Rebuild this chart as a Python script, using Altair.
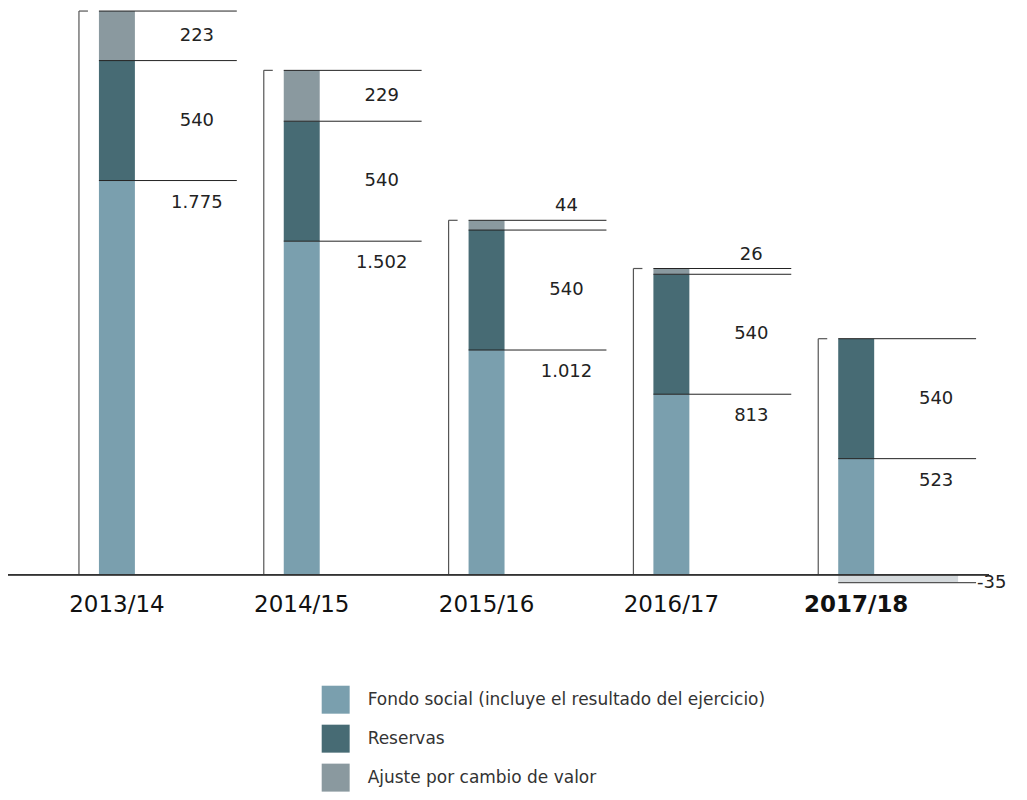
import altair as alt
import pandas as pd

years = ["2013/14", "2014/15", "2015/16", "2016/17", "2017/18"]
fondo = [1775, 1502, 1012, 813, 523]
reservas = [540, 540, 540, 540, 540]
ajuste = [223, 229, 44, 26, -35]
fondo_labels = ["1.775", "1.502", "1.012", "813", "523"]
reservas_labels = ["540", "540", "540", "540", "540"]
ajuste_labels = ["223", "229", "44", "26", "-35"]
series = ["Fondo social (incluye el resultado del ejercicio)", "Reservas", "Ajuste por cambio de valor"]
colors = ["#7a9fae", "#476b74", "#8a999f"]
neg_color = "#d4d9dc"
FONT = "DejaVu Sans"

seg_rows, tot_rows, neg_rows = [], [], []
for i, y in enumerate(years):
    b = 0
    parts = [(series[0], fondo[i], fondo_labels[i]), (series[1], reservas[i], reservas_labels[i])]
    if ajuste[i] > 0:
        parts.append((series[2], ajuste[i], ajuste_labels[i]))
    else:
        neg_rows.append({"year": y, "val": ajuste[i], "zero": 0, "label": ajuste_labels[i]})
    for s, v, lab in parts:
        kind = "fondo" if s == series[0] else ("small" if v < 100 else "mid")
        seg_rows.append({"year": y, "series": s, "bottom": b, "top": b + v,
                         "mid": b + v / 2, "label": lab, "kind": kind})
        b += v
    tot_rows.append({"year": y, "total": b, "zero": 0})

seg = pd.DataFrame(seg_rows)
tot = pd.DataFrame(tot_rows)
neg = pd.DataFrame(neg_rows)

xscale = alt.Scale(domain=years, paddingInner=0, paddingOuter=0.154, align=0.29)
yscale = alt.Scale(domain=[0, 2550], nice=False, zero=False)
X = alt.X("year:N", scale=xscale, sort=years,
          axis=alt.Axis(title=None, domain=False, ticks=False, labelAngle=0, labelFontSize=23,
                        labelFont=FONT, labelColor="#111", labelPadding=19,
                        labelFontWeight=alt.condition("datum.value == '2017/18'", alt.value("bold"), alt.value("normal"))))

bars = alt.Chart(seg).mark_bar(size=36).encode(
    x=X,
    y=alt.Y("top:Q", scale=yscale, axis=None),
    y2="bottom:Q",
    color=alt.Color("series:N", scale=alt.Scale(domain=series, range=colors),
                    legend=alt.Legend(orient="none", legendX=314, legendY=678, title=None,
                                      symbolType="square", symbolSize=784, rowPadding=11,
                                      labelOffset=18, labelFontSize=17, labelFont=FONT,
                                      labelColor="#333", symbolStrokeWidth=0, padding=0,
                                      labelLimit=700, symbolOpacity=1, direction="vertical")),
)

negbar = alt.Chart(neg).mark_bar(size=120, xOffset=42, color=neg_color).encode(
    x=alt.X("year:N", scale=xscale, sort=years), y="val:Q", y2="zero:Q")

lines = alt.Chart(seg).mark_rule(xOffset=-18, x2Offset=120, color="#222", strokeWidth=1).encode(
    x=alt.X("year:N", scale=xscale, sort=years), x2="year:N", y="top:Q")

negline = alt.Chart(neg).mark_rule(xOffset=-18, x2Offset=120, color="#555", strokeWidth=1.2).encode(
    x=alt.X("year:N", scale=xscale, sort=years), x2="year:N", y="val:Q")

bracket_v = alt.Chart(tot).mark_rule(xOffset=-38, color="#555", strokeWidth=1.2).encode(
    x=alt.X("year:N", scale=xscale, sort=years), y="total:Q", y2="zero:Q")

bracket_t = alt.Chart(tot).mark_rule(xOffset=-38, x2Offset=-29, color="#555", strokeWidth=1.2).encode(
    x=alt.X("year:N", scale=xscale, sort=years), x2="year:N", y="total:Q")

baseline = alt.Chart(tot).mark_rule(color="#333", strokeWidth=1).encode(y=alt.datum(0))

txt_kw = dict(font=FONT, fontSize=18, color="#222", baseline="middle", align="center", dx=80)
t_fondo = alt.Chart(seg[seg.kind == "fondo"]).mark_text(dy=22, **txt_kw).encode(
    x=alt.X("year:N", scale=xscale, sort=years), y="top:Q", text="label:N")
t_mid = alt.Chart(seg[seg.kind == "mid"]).mark_text(**txt_kw).encode(
    x=alt.X("year:N", scale=xscale, sort=years), y="mid:Q", text="label:N")
t_small = alt.Chart(seg[seg.kind == "small"]).mark_text(dy=-14, **txt_kw).encode(
    x=alt.X("year:N", scale=xscale, sort=years), y="top:Q", text="label:N")
t_neg = alt.Chart(neg).mark_text(font=FONT, fontSize=18, color="#222", baseline="middle",
                                 align="left", dx=121).encode(
    x=alt.X("year:N", scale=xscale, sort=years), y="val:Q", text="label:N")

chart = alt.layer(bars, negbar, lines, negline, bracket_v, bracket_t, baseline,
                  t_fondo, t_mid, t_small, t_neg).properties(
    width=982, height=567,
    background="white",
    autosize=alt.AutoSizeParams(type="none"),
    padding={"left": 0, "top": 0, "right": 30, "bottom": 217},
).configure_view(strokeWidth=0, stroke="transparent")

chart.save("out.html", embed_options={"renderer": "svg", "actions": False})
